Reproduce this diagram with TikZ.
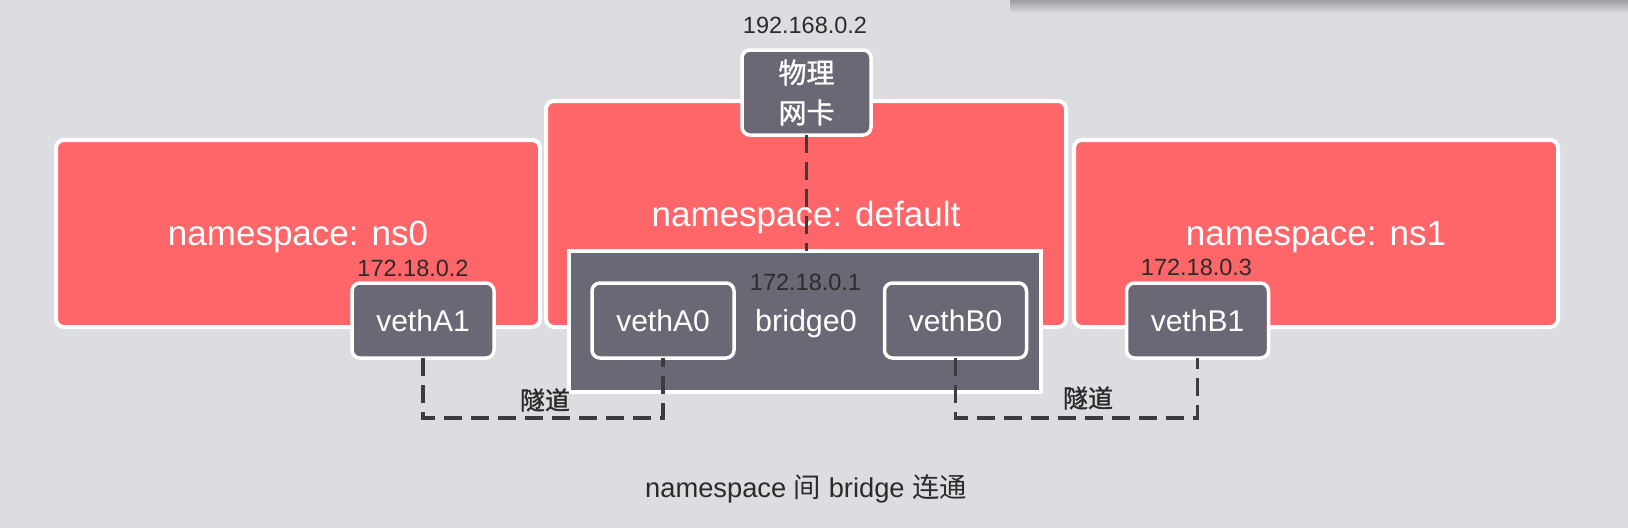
\documentclass[tikz,border=0pt]{standalone}
\usepackage{fontspec}
\setmainfont{Liberation Sans}
\newfontfamily\cjk{Noto Sans CJK SC}
\newfontfamily\cjkb{Noto Sans CJK SC}[FakeBold=1.2]
\usetikzlibrary{calc}
\definecolor{bg}{HTML}{DCDDE1}
\definecolor{nsred}{HTML}{FF6669}
\definecolor{ifgray}{HTML}{6B6875}
\definecolor{ink}{HTML}{2B2B2B}
\definecolor{tline}{HTML}{3C3C40}
\definecolor{shadowc}{HTML}{9C9DA1}
\newcommand\fsz[1]{\fontsize{#1}{#1}\selectfont}
\tikzset{
  nsbox/.style={draw=white, line width=4pt, fill=nsred, rounded corners=8pt,
    text=white, font=\fsz{35}, text depth=0pt, inner sep=0pt, outer sep=0pt},
  ifbox/.style={draw=white, line width=3.5pt, fill=ifgray, rounded corners=8pt,
    text=white, font=\fsz{30}, minimum width=142pt, minimum height=75pt,
    inner sep=0pt, outer sep=0pt, text depth=0pt},
  bridgebox/.style={draw=white, line width=3.5pt, fill=ifgray,
    minimum width=472pt, minimum height=141pt, inner sep=0pt, outer sep=0pt},
  iplabel/.style={text=ink, font=\fsz{23.5}, anchor=base, inner sep=0pt},
  tunnel/.style={draw=tline, line width=3.5pt, dash pattern=on 18pt off 9pt},
  tunnellabel/.style={text=ink, font=\cjkb\fsz{25}, inner sep=0pt},
}
\begin{document}
\begin{tikzpicture}[x=1pt, y=-1pt]
\useasboundingbox (0,0) rectangle (1628,528);
\fill[bg] (0,0) rectangle (1628,528);
\shade[top color=shadowc, bottom color=bg] (1010,0) rectangle (1628,13);

% namespaces
\node[nsbox, minimum width=484pt, minimum height=187pt] (ns0) at (298,233.5) {namespace: ns0};
\node[nsbox, minimum width=520pt, minimum height=226pt] (def) at (806,214) {namespace: default};
\node[nsbox, minimum width=484pt, minimum height=187pt] (ns1) at (1316,233.5) {namespace: ns1};

% bridge
\node[bridgebox] (bridge) at (805,321.5) {};
\node[iplabel] (ipbr) at (805.5,290) {172.18.0.1};
\node[text=white, font=\fsz{30.5}, anchor=base, inner sep=0pt] (brlabel) at (806,331) {bridge0};

% physical NIC
\node[draw=white, line width=3.5pt, fill=ifgray, rounded corners=8pt,
  minimum width=129pt, minimum height=85pt, inner sep=0pt, outer sep=0pt,
  text=white, font=\cjkb\fontsize{28}{40}\selectfont, align=center] (nic) at (806.5,92.5) {物理\\网卡};
\node[iplabel] (ipnic) at (805,33) {192.168.0.2};
\draw[tunnel] (nic.south) -- (nic.south |- bridge.north);

% veth interfaces
\node[ifbox] (vA1) at (423,320.5) {vethA1};
\node[ifbox] (vA0) at (663,320.5) {vethA0};
\node[ifbox] (vB0) at (955.5,320.5) {vethB0};
\node[ifbox] (vB1) at (1197.5,320.5) {vethB1};
\node[iplabel] (ipA1) at (413,276) {172.18.0.2};
\node[iplabel] (ipB1) at (1196.5,275) {172.18.0.3};

% tunnels
\coordinate (low) at (0,418);
\draw[tunnel] (vA1.south) -- (vA1.south |- low) -| (vA0.south);
\draw[tunnel] (vB0.south) -- (vB0.south |- low) -| (vB1.south);
\node[tunnellabel] (tA) at (545,400) {隧道};
\node[tunnellabel] (tB) at (1088,398) {隧道};

% caption
\node[text=ink, font=\fsz{27.3}, anchor=base, inner sep=0pt] (cap) at (806,497)
  {namespace {\cjk 间} bridge {\cjk 连通}};
\end{tikzpicture}
\end{document}
